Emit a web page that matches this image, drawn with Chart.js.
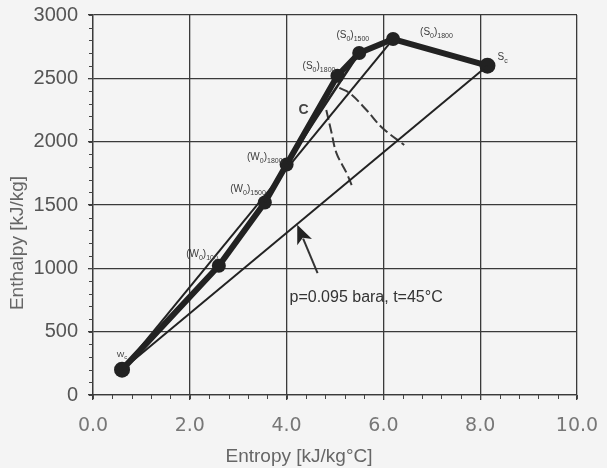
<!DOCTYPE html>
<html><head><meta charset="utf-8">
<script src="https://cdn.jsdelivr.net/npm/chart.js@4.4.1/dist/chart.umd.min.js"></script>
<style>html,body{margin:0;padding:0;background:#f4f4f4;}canvas{display:block;}</style>
</head><body>
<canvas id="c" width="607" height="468"></canvas>
<script>
// ---- data ----
const processEntropy  = [0.6, 2.6, 3.55, 4.0, 5.05, 5.5, 6.2, 8.15];
const processEnthalpy = [200, 1020, 1520, 1820, 2520, 2700, 2810, 2600];
const processLabels   = ['W{c}', '(W{0}){100}', '(W{0}){1500}', '(W{0}){1800}', '(S{0}){1800}', '(S{0}){1500}', '(S{0}){1800}', 'S{c}'];
const parallelEntropy  = [3.55, 4.3, 5.5];
const parallelEnthalpy = [1520, 2000, 2700];
const toPeakEntropy  = [0.6, 6.2];
const toPeakEnthalpy = [200, 2810];
const toEndEntropy  = [0.6, 8.15];
const toEndEnthalpy = [200, 2600];
const dashUpperEntropy  = [5.09, 5.30, 5.65, 5.98, 6.43];
const dashUpperEnthalpy = [2424, 2384, 2250, 2108, 1974];
const dashLowerEntropy  = [4.82, 4.93, 5.03, 5.24, 5.36];
const dashLowerEnthalpy = [2250, 2068, 1910, 1752, 1642];
const xTickValues = [0, 2, 4, 6, 8, 10];
const yTickValues = [0, 500, 1000, 1500, 2000, 2500, 3000];
const xAxisTitle = 'Entropy [kJ/kg°C]';
const yAxisTitle = 'Enthalpy [kJ/kg]';
const curveLabel = 'C';
const curveLabelAt = [4.35, 2250];
const noteText = 'p=0.095 bara, t=45°C';
const noteAt = [4.06, 766];
const arrowTail = [4.64, 963];
const arrowTip  = [4.22, 1345];

// ---- layout helpers (label placement, not data) ----
const labelPlacement = [
  {dx: 0, dy: -13, align: 'center', main: 8, sub: 6},
  {dx: -1, dy: -9, align: 'right'},
  {dx: 1, dy: -10, align: 'right'},
  {dx: -4, dy: -4, align: 'right'},
  {dx: -2, dy: -7, align: 'right'},
  {dx: 10, dy: -15, align: 'right'},
  {dx: 27, dy: -4, align: 'left'},
  {dx: 10, dy: -6, align: 'left', main: 10, sub: 7}
];

const pts = (xs, ys) => xs.map((x, i) => ({x, y: ys[i]}));

function drawRich(ctx, str, x, y, align, mainSize, subSize) {
  const parts = [];
  const re = /\{([^}]*)\}|[^{]+/g; let m;
  while ((m = re.exec(str))) parts.push(m[1] !== undefined ? {t: m[1], sub: true} : {t: m[0], sub: false});
  const fMain = mainSize + 'px "Liberation Sans"', fSub = subSize + 'px "Liberation Sans"';
  let w = 0;
  parts.forEach(p => { ctx.font = p.sub ? fSub : fMain; p.w = ctx.measureText(p.t).width; w += p.w; });
  let cx = align === 'right' ? x - w : align === 'center' ? x - w / 2 : x;
  ctx.textAlign = 'left'; ctx.textBaseline = 'alphabetic';
  parts.forEach(p => {
    ctx.font = p.sub ? fSub : fMain;
    ctx.fillText(p.t, cx, p.sub ? y + mainSize * 0.3 : y);
    cx += p.w;
  });
}

const overlay = {
  id: 'overlay',
  afterDraw(chart) {
    const ctx = chart.ctx, xs = chart.scales.x, ys = chart.scales.y;
    const ca = chart.chartArea;
    ctx.save();
    // minor ticks
    ctx.strokeStyle = '#444'; ctx.lineWidth = 1;
    for (let v = 0; v <= 10.0001; v += 0.4) {
      const px = Math.round(xs.getPixelForValue(v)) + 0.5;
      ctx.beginPath(); ctx.moveTo(px, ca.bottom); ctx.lineTo(px, ca.bottom + 4); ctx.stroke();
    }
    for (let v = 0; v <= 3000; v += 100) {
      const py = Math.round(ys.getPixelForValue(v)) + 0.5;
      ctx.beginPath(); ctx.moveTo(ca.left - 4, py); ctx.lineTo(ca.left, py); ctx.stroke();
    }
    // point labels
    ctx.fillStyle = '#3a3a3a';
    processLabels.forEach((lab, i) => {
      const p = labelPlacement[i];
      const px = xs.getPixelForValue(processEntropy[i]) + p.dx;
      const py = ys.getPixelForValue(processEnthalpy[i]) + p.dy;
      drawRich(ctx, lab, px, py, p.align, p.main || 10, p.sub || 7);
    });
    // curve label C
    ctx.fillStyle = '#444';
    ctx.font = 'bold 14px "Liberation Sans"';
    ctx.textAlign = 'center'; ctx.textBaseline = 'middle';
    ctx.fillText(curveLabel, xs.getPixelForValue(curveLabelAt[0]), ys.getPixelForValue(curveLabelAt[1]));
    // arrow
    const tx = xs.getPixelForValue(arrowTail[0]), ty = ys.getPixelForValue(arrowTail[1]);
    const hx = xs.getPixelForValue(arrowTip[0]), hy = ys.getPixelForValue(arrowTip[1]);
    const ang = Math.atan2(hy - ty, hx - tx);
    const hl = 19, hw = 8;
    ctx.strokeStyle = '#333'; ctx.lineWidth = 2;
    ctx.beginPath(); ctx.moveTo(tx, ty);
    ctx.lineTo(hx - Math.cos(ang) * hl * 0.8, hy - Math.sin(ang) * hl * 0.8); ctx.stroke();
    ctx.fillStyle = '#222';
    ctx.beginPath();
    ctx.moveTo(hx, hy);
    ctx.lineTo(hx - Math.cos(ang) * hl + Math.sin(ang) * hw, hy - Math.sin(ang) * hl - Math.cos(ang) * hw);
    ctx.lineTo(hx - Math.cos(ang) * hl * 0.75, hy - Math.sin(ang) * hl * 0.75);
    ctx.lineTo(hx - Math.cos(ang) * hl - Math.sin(ang) * hw, hy - Math.sin(ang) * hl + Math.cos(ang) * hw);
    ctx.closePath(); ctx.fill();
    // note text
    ctx.fillStyle = '#333';
    ctx.font = '16px "Liberation Sans"';
    ctx.textAlign = 'left'; ctx.textBaseline = 'middle';
    ctx.fillText(noteText, xs.getPixelForValue(noteAt[0]), ys.getPixelForValue(noteAt[1]));
    // axis titles
    ctx.fillStyle = '#666';
    ctx.font = '19px "Liberation Sans"';
    ctx.textAlign = 'center'; ctx.textBaseline = 'middle';
    ctx.fillText(xAxisTitle, 299, 457);
    ctx.translate(18, 243); ctx.rotate(-Math.PI / 2);
    ctx.fillText(yAxisTitle, 0, 0);
    ctx.restore();
  }
};

const bg = {
  id: 'bg',
  beforeDraw(chart) {
    const ctx = chart.ctx;
    ctx.save(); ctx.fillStyle = '#f4f4f4'; ctx.fillRect(0, 0, chart.width, chart.height); ctx.restore();
  }
};

const dark = '#222';
new Chart(document.getElementById('c'), {
  type: 'scatter',
  data: {
    datasets: [
      {data: pts(toEndEntropy, toEndEnthalpy), showLine: true, borderColor: dark, borderWidth: 2, pointRadius: 0},
      {data: pts(toPeakEntropy, toPeakEnthalpy), showLine: true, borderColor: dark, borderWidth: 2, pointRadius: 0},
      {data: pts(dashUpperEntropy, dashUpperEnthalpy), showLine: true, borderColor: '#3a3a3a', borderWidth: 2, borderDash: [10, 4], tension: 0.4, pointRadius: 0},
      {data: pts(dashLowerEntropy, dashLowerEnthalpy), showLine: true, borderColor: '#3a3a3a', borderWidth: 2, borderDash: [10, 4], tension: 0.4, pointRadius: 0},
      {data: pts(parallelEntropy, parallelEnthalpy), showLine: true, borderColor: dark, borderWidth: 2.5, tension: 0.3, pointRadius: 0},
      {data: pts(processEntropy, processEnthalpy), showLine: true, borderColor: dark, borderWidth: 6, backgroundColor: dark,
       pointRadius: [8, 7, 7, 7, 7, 7, 7, 8], pointBorderWidth: 0, borderJoinStyle: 'round', borderCapStyle: 'round'}
    ]
  },
  options: {
    responsive: false, animation: false, devicePixelRatio: 1,
    layout: {padding: {left: 0, right: 30, top: 15, bottom: 0}},
    plugins: {legend: {display: false}, tooltip: {enabled: false}},
    scales: {
      x: {
        type: 'linear', min: 0, max: 10,
        afterBuildTicks: s => { s.ticks = xTickValues.map(v => ({value: v})); },
        afterFit: s => { s.height = 73; s.paddingLeft = 0; s.paddingRight = 0; },
        grid: {color: '#3a3a3a', lineWidth: 1.3, tickLength: 5},
        border: {color: '#3a3a3a', width: 1.3},
        ticks: {font: {family: 'DejaVu Sans', size: 19}, color: '#777', padding: 15, maxRotation: 0, autoSkip: false,
                callback: v => Number(v).toFixed(1)}
      },
      y: {
        type: 'linear', min: 0, max: 3000,
        afterBuildTicks: s => { s.ticks = yTickValues.map(v => ({value: v})); },
        afterFit: s => { s.width = 93; s.paddingTop = 0; s.paddingBottom = 0; },
        grid: {color: '#3a3a3a', lineWidth: 1.3, tickLength: 5},
        border: {color: '#3a3a3a', width: 1.3},
        ticks: {font: {family: 'Liberation Sans', size: 20}, color: '#555', padding: 10, autoSkip: false,
                callback: v => String(v)}
      }
    }
  },
  plugins: [bg, overlay]
});
</script>
</body></html>
